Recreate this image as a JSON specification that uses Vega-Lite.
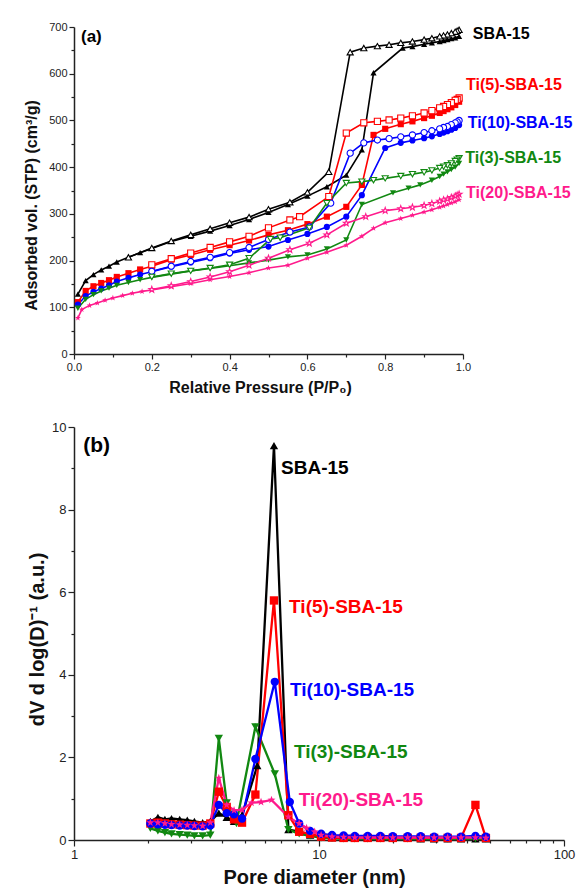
{
  "$schema": "https://vega.github.io/schema/vega-lite/v6.json",
  "padding": {"left": 23, "top": 21, "right": 5, "bottom": 2},
  "bounds": "flush",
  "spacing": 73,
  "config": {
    "view": {"stroke": null},
    "font": "Liberation Sans",
    "axis": {"grid": false, "domainColor": "#222", "tickColor": "#222", "labelColor": "#222", "titleColor": "#111", "labelFont": "Liberation Sans", "titleFont": "Liberation Sans", "titleFontWeight": "bold", "domainWidth": 1.5, "tickWidth": 1.2, "labelFlush": false}
  },
  "datasets": {
    "iso": [
      {"s":"SBA-15","b":"ads","p":0.01,"v":128},{"s":"SBA-15","b":"ads","p":0.03,"v":157},{"s":"SBA-15","b":"ads","p":0.05,"v":170},{"s":"SBA-15","b":"ads","p":0.07,"v":180},{"s":"SBA-15","b":"ads","p":0.09,"v":188},{"s":"SBA-15","b":"ads","p":0.11,"v":197},{"s":"SBA-15","b":"ads","p":0.14,"v":207},{"s":"SBA-15","b":"ads","p":0.17,"v":217},{"s":"SBA-15","b":"ads","p":0.20,"v":226},{"s":"SBA-15","b":"ads","p":0.25,"v":241},{"s":"SBA-15","b":"ads","p":0.30,"v":252},{"s":"SBA-15","b":"ads","p":0.35,"v":263},{"s":"SBA-15","b":"ads","p":0.40,"v":275},{"s":"SBA-15","b":"ads","p":0.45,"v":288},{"s":"SBA-15","b":"ads","p":0.50,"v":303},{"s":"SBA-15","b":"ads","p":0.55,"v":320},{"s":"SBA-15","b":"ads","p":0.60,"v":338},{"s":"SBA-15","b":"ads","p":0.65,"v":358},{"s":"SBA-15","b":"ads","p":0.70,"v":383},{"s":"SBA-15","b":"ads","p":0.74,"v":437},{"s":"SBA-15","b":"ads","p":0.77,"v":602},{"s":"SBA-15","b":"ads","p":0.845,"v":655},{"s":"SBA-15","b":"ads","p":0.87,"v":658},{"s":"SBA-15","b":"ads","p":0.90,"v":663},{"s":"SBA-15","b":"ads","p":0.92,"v":666},{"s":"SBA-15","b":"ads","p":0.94,"v":669},{"s":"SBA-15","b":"ads","p":0.95,"v":671},{"s":"SBA-15","b":"ads","p":0.96,"v":673},{"s":"SBA-15","b":"ads","p":0.97,"v":675},{"s":"SBA-15","b":"ads","p":0.98,"v":677},{"s":"SBA-15","b":"ads","p":0.99,"v":680},
      {"s":"SBA-15","b":"des","p":0.99,"v":694},{"s":"SBA-15","b":"des","p":0.985,"v":692},{"s":"SBA-15","b":"des","p":0.98,"v":690},{"s":"SBA-15","b":"des","p":0.97,"v":687},{"s":"SBA-15","b":"des","p":0.96,"v":684},{"s":"SBA-15","b":"des","p":0.95,"v":682},{"s":"SBA-15","b":"des","p":0.94,"v":680},{"s":"SBA-15","b":"des","p":0.92,"v":676},{"s":"SBA-15","b":"des","p":0.90,"v":673},{"s":"SBA-15","b":"des","p":0.87,"v":669},{"s":"SBA-15","b":"des","p":0.84,"v":666},{"s":"SBA-15","b":"des","p":0.81,"v":662},{"s":"SBA-15","b":"des","p":0.78,"v":659},{"s":"SBA-15","b":"des","p":0.745,"v":655},{"s":"SBA-15","b":"des","p":0.71,"v":646},{"s":"SBA-15","b":"des","p":0.655,"v":390},{"s":"SBA-15","b":"des","p":0.60,"v":346},{"s":"SBA-15","b":"des","p":0.555,"v":325},{"s":"SBA-15","b":"des","p":0.50,"v":310},{"s":"SBA-15","b":"des","p":0.45,"v":293},{"s":"SBA-15","b":"des","p":0.40,"v":281},{"s":"SBA-15","b":"des","p":0.35,"v":268},{"s":"SBA-15","b":"des","p":0.30,"v":255},{"s":"SBA-15","b":"des","p":0.25,"v":242},{"s":"SBA-15","b":"des","p":0.20,"v":227},{"s":"SBA-15","b":"des","p":0.14,"v":207},
      {"s":"Ti(5)-SBA-15","b":"ads","p":0.01,"v":111},{"s":"Ti(5)-SBA-15","b":"ads","p":0.03,"v":135},{"s":"Ti(5)-SBA-15","b":"ads","p":0.05,"v":145},{"s":"Ti(5)-SBA-15","b":"ads","p":0.07,"v":152},{"s":"Ti(5)-SBA-15","b":"ads","p":0.09,"v":158},{"s":"Ti(5)-SBA-15","b":"ads","p":0.11,"v":165},{"s":"Ti(5)-SBA-15","b":"ads","p":0.14,"v":173},{"s":"Ti(5)-SBA-15","b":"ads","p":0.17,"v":181},{"s":"Ti(5)-SBA-15","b":"ads","p":0.20,"v":188},{"s":"Ti(5)-SBA-15","b":"ads","p":0.25,"v":202},{"s":"Ti(5)-SBA-15","b":"ads","p":0.30,"v":212},{"s":"Ti(5)-SBA-15","b":"ads","p":0.35,"v":223},{"s":"Ti(5)-SBA-15","b":"ads","p":0.40,"v":233},{"s":"Ti(5)-SBA-15","b":"ads","p":0.45,"v":243},{"s":"Ti(5)-SBA-15","b":"ads","p":0.50,"v":255},{"s":"Ti(5)-SBA-15","b":"ads","p":0.55,"v":265},{"s":"Ti(5)-SBA-15","b":"ads","p":0.60,"v":278},{"s":"Ti(5)-SBA-15","b":"ads","p":0.65,"v":294},{"s":"Ti(5)-SBA-15","b":"ads","p":0.70,"v":315},{"s":"Ti(5)-SBA-15","b":"ads","p":0.74,"v":362},{"s":"Ti(5)-SBA-15","b":"ads","p":0.77,"v":469},{"s":"Ti(5)-SBA-15","b":"ads","p":0.80,"v":482},{"s":"Ti(5)-SBA-15","b":"ads","p":0.84,"v":492},{"s":"Ti(5)-SBA-15","b":"ads","p":0.87,"v":498},{"s":"Ti(5)-SBA-15","b":"ads","p":0.90,"v":505},{"s":"Ti(5)-SBA-15","b":"ads","p":0.92,"v":510},{"s":"Ti(5)-SBA-15","b":"ads","p":0.94,"v":516},{"s":"Ti(5)-SBA-15","b":"ads","p":0.95,"v":520},{"s":"Ti(5)-SBA-15","b":"ads","p":0.96,"v":524},{"s":"Ti(5)-SBA-15","b":"ads","p":0.97,"v":528},{"s":"Ti(5)-SBA-15","b":"ads","p":0.98,"v":533},{"s":"Ti(5)-SBA-15","b":"ads","p":0.99,"v":540},
      {"s":"Ti(5)-SBA-15","b":"des","p":0.99,"v":548},{"s":"Ti(5)-SBA-15","b":"des","p":0.985,"v":545},{"s":"Ti(5)-SBA-15","b":"des","p":0.98,"v":543},{"s":"Ti(5)-SBA-15","b":"des","p":0.97,"v":538},{"s":"Ti(5)-SBA-15","b":"des","p":0.96,"v":534},{"s":"Ti(5)-SBA-15","b":"des","p":0.95,"v":530},{"s":"Ti(5)-SBA-15","b":"des","p":0.94,"v":527},{"s":"Ti(5)-SBA-15","b":"des","p":0.92,"v":521},{"s":"Ti(5)-SBA-15","b":"des","p":0.90,"v":516},{"s":"Ti(5)-SBA-15","b":"des","p":0.87,"v":510},{"s":"Ti(5)-SBA-15","b":"des","p":0.84,"v":505},{"s":"Ti(5)-SBA-15","b":"des","p":0.81,"v":501},{"s":"Ti(5)-SBA-15","b":"des","p":0.78,"v":498},{"s":"Ti(5)-SBA-15","b":"des","p":0.745,"v":495},{"s":"Ti(5)-SBA-15","b":"des","p":0.70,"v":473},{"s":"Ti(5)-SBA-15","b":"des","p":0.655,"v":337},{"s":"Ti(5)-SBA-15","b":"des","p":0.58,"v":294},{"s":"Ti(5)-SBA-15","b":"des","p":0.555,"v":287},{"s":"Ti(5)-SBA-15","b":"des","p":0.50,"v":270},{"s":"Ti(5)-SBA-15","b":"des","p":0.45,"v":252},{"s":"Ti(5)-SBA-15","b":"des","p":0.40,"v":240},{"s":"Ti(5)-SBA-15","b":"des","p":0.35,"v":228},{"s":"Ti(5)-SBA-15","b":"des","p":0.30,"v":216},{"s":"Ti(5)-SBA-15","b":"des","p":0.25,"v":204},{"s":"Ti(5)-SBA-15","b":"des","p":0.20,"v":191},
      {"s":"Ti(10)-SBA-15","b":"ads","p":0.01,"v":106},{"s":"Ti(10)-SBA-15","b":"ads","p":0.03,"v":124},{"s":"Ti(10)-SBA-15","b":"ads","p":0.05,"v":133},{"s":"Ti(10)-SBA-15","b":"ads","p":0.07,"v":140},{"s":"Ti(10)-SBA-15","b":"ads","p":0.09,"v":147},{"s":"Ti(10)-SBA-15","b":"ads","p":0.11,"v":155},{"s":"Ti(10)-SBA-15","b":"ads","p":0.14,"v":163},{"s":"Ti(10)-SBA-15","b":"ads","p":0.17,"v":170},{"s":"Ti(10)-SBA-15","b":"ads","p":0.20,"v":176},{"s":"Ti(10)-SBA-15","b":"ads","p":0.25,"v":187},{"s":"Ti(10)-SBA-15","b":"ads","p":0.30,"v":196},{"s":"Ti(10)-SBA-15","b":"ads","p":0.35,"v":205},{"s":"Ti(10)-SBA-15","b":"ads","p":0.40,"v":215},{"s":"Ti(10)-SBA-15","b":"ads","p":0.45,"v":223},{"s":"Ti(10)-SBA-15","b":"ads","p":0.50,"v":230},{"s":"Ti(10)-SBA-15","b":"ads","p":0.55,"v":244},{"s":"Ti(10)-SBA-15","b":"ads","p":0.60,"v":257},{"s":"Ti(10)-SBA-15","b":"ads","p":0.65,"v":272},{"s":"Ti(10)-SBA-15","b":"ads","p":0.70,"v":294},{"s":"Ti(10)-SBA-15","b":"ads","p":0.74,"v":340},{"s":"Ti(10)-SBA-15","b":"ads","p":0.80,"v":441},{"s":"Ti(10)-SBA-15","b":"ads","p":0.84,"v":452},{"s":"Ti(10)-SBA-15","b":"ads","p":0.87,"v":457},{"s":"Ti(10)-SBA-15","b":"ads","p":0.90,"v":462},{"s":"Ti(10)-SBA-15","b":"ads","p":0.92,"v":466},{"s":"Ti(10)-SBA-15","b":"ads","p":0.94,"v":471},{"s":"Ti(10)-SBA-15","b":"ads","p":0.95,"v":474},{"s":"Ti(10)-SBA-15","b":"ads","p":0.96,"v":477},{"s":"Ti(10)-SBA-15","b":"ads","p":0.97,"v":480},{"s":"Ti(10)-SBA-15","b":"ads","p":0.98,"v":484},{"s":"Ti(10)-SBA-15","b":"ads","p":0.99,"v":490},
      {"s":"Ti(10)-SBA-15","b":"des","p":0.99,"v":500},{"s":"Ti(10)-SBA-15","b":"des","p":0.985,"v":497},{"s":"Ti(10)-SBA-15","b":"des","p":0.98,"v":495},{"s":"Ti(10)-SBA-15","b":"des","p":0.97,"v":491},{"s":"Ti(10)-SBA-15","b":"des","p":0.96,"v":487},{"s":"Ti(10)-SBA-15","b":"des","p":0.95,"v":485},{"s":"Ti(10)-SBA-15","b":"des","p":0.94,"v":482},{"s":"Ti(10)-SBA-15","b":"des","p":0.92,"v":478},{"s":"Ti(10)-SBA-15","b":"des","p":0.90,"v":474},{"s":"Ti(10)-SBA-15","b":"des","p":0.87,"v":469},{"s":"Ti(10)-SBA-15","b":"des","p":0.84,"v":465},{"s":"Ti(10)-SBA-15","b":"des","p":0.81,"v":461},{"s":"Ti(10)-SBA-15","b":"des","p":0.78,"v":458},{"s":"Ti(10)-SBA-15","b":"des","p":0.745,"v":452},{"s":"Ti(10)-SBA-15","b":"des","p":0.71,"v":430},{"s":"Ti(10)-SBA-15","b":"des","p":0.66,"v":323},{"s":"Ti(10)-SBA-15","b":"des","p":0.605,"v":272},{"s":"Ti(10)-SBA-15","b":"des","p":0.555,"v":261},{"s":"Ti(10)-SBA-15","b":"des","p":0.50,"v":245},{"s":"Ti(10)-SBA-15","b":"des","p":0.45,"v":228},{"s":"Ti(10)-SBA-15","b":"des","p":0.40,"v":217},{"s":"Ti(10)-SBA-15","b":"des","p":0.35,"v":207},{"s":"Ti(10)-SBA-15","b":"des","p":0.30,"v":198},{"s":"Ti(10)-SBA-15","b":"des","p":0.25,"v":188},{"s":"Ti(10)-SBA-15","b":"des","p":0.20,"v":177},
      {"s":"Ti(3)-SBA-15","b":"ads","p":0.01,"v":98},{"s":"Ti(3)-SBA-15","b":"ads","p":0.03,"v":117},{"s":"Ti(3)-SBA-15","b":"ads","p":0.05,"v":127},{"s":"Ti(3)-SBA-15","b":"ads","p":0.07,"v":135},{"s":"Ti(3)-SBA-15","b":"ads","p":0.09,"v":141},{"s":"Ti(3)-SBA-15","b":"ads","p":0.11,"v":147},{"s":"Ti(3)-SBA-15","b":"ads","p":0.14,"v":153},{"s":"Ti(3)-SBA-15","b":"ads","p":0.17,"v":159},{"s":"Ti(3)-SBA-15","b":"ads","p":0.20,"v":164},{"s":"Ti(3)-SBA-15","b":"ads","p":0.25,"v":171},{"s":"Ti(3)-SBA-15","b":"ads","p":0.30,"v":178},{"s":"Ti(3)-SBA-15","b":"ads","p":0.35,"v":183},{"s":"Ti(3)-SBA-15","b":"ads","p":0.40,"v":189},{"s":"Ti(3)-SBA-15","b":"ads","p":0.45,"v":195},{"s":"Ti(3)-SBA-15","b":"ads","p":0.50,"v":201},{"s":"Ti(3)-SBA-15","b":"ads","p":0.55,"v":208},{"s":"Ti(3)-SBA-15","b":"ads","p":0.60,"v":212},{"s":"Ti(3)-SBA-15","b":"ads","p":0.65,"v":225},{"s":"Ti(3)-SBA-15","b":"ads","p":0.70,"v":244},{"s":"Ti(3)-SBA-15","b":"ads","p":0.74,"v":320},{"s":"Ti(3)-SBA-15","b":"ads","p":0.82,"v":345},{"s":"Ti(3)-SBA-15","b":"ads","p":0.86,"v":355},{"s":"Ti(3)-SBA-15","b":"ads","p":0.89,"v":362},{"s":"Ti(3)-SBA-15","b":"ads","p":0.92,"v":372},{"s":"Ti(3)-SBA-15","b":"ads","p":0.94,"v":380},{"s":"Ti(3)-SBA-15","b":"ads","p":0.95,"v":385},{"s":"Ti(3)-SBA-15","b":"ads","p":0.96,"v":390},{"s":"Ti(3)-SBA-15","b":"ads","p":0.97,"v":395},{"s":"Ti(3)-SBA-15","b":"ads","p":0.98,"v":400},{"s":"Ti(3)-SBA-15","b":"ads","p":0.99,"v":408},
      {"s":"Ti(3)-SBA-15","b":"des","p":0.99,"v":419},{"s":"Ti(3)-SBA-15","b":"des","p":0.985,"v":416},{"s":"Ti(3)-SBA-15","b":"des","p":0.98,"v":413},{"s":"Ti(3)-SBA-15","b":"des","p":0.97,"v":408},{"s":"Ti(3)-SBA-15","b":"des","p":0.96,"v":404},{"s":"Ti(3)-SBA-15","b":"des","p":0.95,"v":401},{"s":"Ti(3)-SBA-15","b":"des","p":0.94,"v":398},{"s":"Ti(3)-SBA-15","b":"des","p":0.92,"v":393},{"s":"Ti(3)-SBA-15","b":"des","p":0.90,"v":389},{"s":"Ti(3)-SBA-15","b":"des","p":0.87,"v":385},{"s":"Ti(3)-SBA-15","b":"des","p":0.84,"v":381},{"s":"Ti(3)-SBA-15","b":"des","p":0.80,"v":376},{"s":"Ti(3)-SBA-15","b":"des","p":0.77,"v":372},{"s":"Ti(3)-SBA-15","b":"des","p":0.74,"v":369},{"s":"Ti(3)-SBA-15","b":"des","p":0.70,"v":366},{"s":"Ti(3)-SBA-15","b":"des","p":0.65,"v":323},{"s":"Ti(3)-SBA-15","b":"des","p":0.605,"v":270},{"s":"Ti(3)-SBA-15","b":"des","p":0.53,"v":249},{"s":"Ti(3)-SBA-15","b":"des","p":0.505,"v":246},{"s":"Ti(3)-SBA-15","b":"des","p":0.45,"v":205},{"s":"Ti(3)-SBA-15","b":"des","p":0.40,"v":191},{"s":"Ti(3)-SBA-15","b":"des","p":0.35,"v":184},{"s":"Ti(3)-SBA-15","b":"des","p":0.30,"v":178},{"s":"Ti(3)-SBA-15","b":"des","p":0.25,"v":172},{"s":"Ti(3)-SBA-15","b":"des","p":0.20,"v":165},
      {"s":"Ti(20)-SBA-15","b":"ads","p":0.01,"v":77},{"s":"Ti(20)-SBA-15","b":"ads","p":0.02,"v":95},{"s":"Ti(20)-SBA-15","b":"ads","p":0.04,"v":104},{"s":"Ti(20)-SBA-15","b":"ads","p":0.06,"v":109},{"s":"Ti(20)-SBA-15","b":"ads","p":0.08,"v":115},{"s":"Ti(20)-SBA-15","b":"ads","p":0.10,"v":120},{"s":"Ti(20)-SBA-15","b":"ads","p":0.125,"v":125},{"s":"Ti(20)-SBA-15","b":"ads","p":0.15,"v":130},{"s":"Ti(20)-SBA-15","b":"ads","p":0.175,"v":134},{"s":"Ti(20)-SBA-15","b":"ads","p":0.20,"v":137},{"s":"Ti(20)-SBA-15","b":"ads","p":0.25,"v":144},{"s":"Ti(20)-SBA-15","b":"ads","p":0.30,"v":151},{"s":"Ti(20)-SBA-15","b":"ads","p":0.35,"v":159},{"s":"Ti(20)-SBA-15","b":"ads","p":0.40,"v":166},{"s":"Ti(20)-SBA-15","b":"ads","p":0.45,"v":174},{"s":"Ti(20)-SBA-15","b":"ads","p":0.50,"v":184},{"s":"Ti(20)-SBA-15","b":"ads","p":0.55,"v":190},{"s":"Ti(20)-SBA-15","b":"ads","p":0.60,"v":205},{"s":"Ti(20)-SBA-15","b":"ads","p":0.65,"v":218},{"s":"Ti(20)-SBA-15","b":"ads","p":0.70,"v":233},{"s":"Ti(20)-SBA-15","b":"ads","p":0.74,"v":252},{"s":"Ti(20)-SBA-15","b":"ads","p":0.77,"v":269},{"s":"Ti(20)-SBA-15","b":"ads","p":0.80,"v":281},{"s":"Ti(20)-SBA-15","b":"ads","p":0.84,"v":290},{"s":"Ti(20)-SBA-15","b":"ads","p":0.87,"v":297},{"s":"Ti(20)-SBA-15","b":"ads","p":0.90,"v":304},{"s":"Ti(20)-SBA-15","b":"ads","p":0.92,"v":309},{"s":"Ti(20)-SBA-15","b":"ads","p":0.94,"v":314},{"s":"Ti(20)-SBA-15","b":"ads","p":0.95,"v":317},{"s":"Ti(20)-SBA-15","b":"ads","p":0.96,"v":320},{"s":"Ti(20)-SBA-15","b":"ads","p":0.97,"v":323},{"s":"Ti(20)-SBA-15","b":"ads","p":0.98,"v":326},{"s":"Ti(20)-SBA-15","b":"ads","p":0.99,"v":330},
      {"s":"Ti(20)-SBA-15","b":"des","p":0.99,"v":342},{"s":"Ti(20)-SBA-15","b":"des","p":0.985,"v":340},{"s":"Ti(20)-SBA-15","b":"des","p":0.98,"v":338},{"s":"Ti(20)-SBA-15","b":"des","p":0.97,"v":335},{"s":"Ti(20)-SBA-15","b":"des","p":0.96,"v":332},{"s":"Ti(20)-SBA-15","b":"des","p":0.95,"v":330},{"s":"Ti(20)-SBA-15","b":"des","p":0.94,"v":327},{"s":"Ti(20)-SBA-15","b":"des","p":0.92,"v":322},{"s":"Ti(20)-SBA-15","b":"des","p":0.90,"v":318},{"s":"Ti(20)-SBA-15","b":"des","p":0.87,"v":314},{"s":"Ti(20)-SBA-15","b":"des","p":0.84,"v":311},{"s":"Ti(20)-SBA-15","b":"des","p":0.80,"v":307},{"s":"Ti(20)-SBA-15","b":"des","p":0.75,"v":294},{"s":"Ti(20)-SBA-15","b":"des","p":0.70,"v":280},{"s":"Ti(20)-SBA-15","b":"des","p":0.65,"v":255},{"s":"Ti(20)-SBA-15","b":"des","p":0.605,"v":237},{"s":"Ti(20)-SBA-15","b":"des","p":0.555,"v":223},{"s":"Ti(20)-SBA-15","b":"des","p":0.50,"v":205},{"s":"Ti(20)-SBA-15","b":"des","p":0.45,"v":190},{"s":"Ti(20)-SBA-15","b":"des","p":0.40,"v":176},{"s":"Ti(20)-SBA-15","b":"des","p":0.35,"v":165},{"s":"Ti(20)-SBA-15","b":"des","p":0.30,"v":155},{"s":"Ti(20)-SBA-15","b":"des","p":0.25,"v":146},{"s":"Ti(20)-SBA-15","b":"des","p":0.20,"v":138}
    ],
    "psd": [
      {"s":"SBA-15","d":2.05,"v":0.45},{"s":"SBA-15","d":2.2,"v":0.55},{"s":"SBA-15","d":2.35,"v":0.5},{"s":"SBA-15","d":2.5,"v":0.52},{"s":"SBA-15","d":2.7,"v":0.5},{"s":"SBA-15","d":2.9,"v":0.48},{"s":"SBA-15","d":3.1,"v":0.45},{"s":"SBA-15","d":3.35,"v":0.42},{"s":"SBA-15","d":3.6,"v":0.45},{"s":"SBA-15","d":3.9,"v":0.65},{"s":"SBA-15","d":4.2,"v":0.55},{"s":"SBA-15","d":4.5,"v":0.45},{"s":"SBA-15","d":4.85,"v":0.6},{"s":"SBA-15","d":5.6,"v":1.8},{"s":"SBA-15","d":6.55,"v":9.55},{"s":"SBA-15","d":7.5,"v":0.25},{"s":"SBA-15","d":8.3,"v":0.2},{"s":"SBA-15","d":9.2,"v":0.12},{"s":"SBA-15","d":10.2,"v":0.08},{"s":"SBA-15","d":11.3,"v":0.06},{"s":"SBA-15","d":12.6,"v":0.05},{"s":"SBA-15","d":14,"v":0.05},{"s":"SBA-15","d":15.8,"v":0.04},{"s":"SBA-15","d":17.8,"v":0.04},{"s":"SBA-15","d":20,"v":0.04},{"s":"SBA-15","d":23,"v":0.04},{"s":"SBA-15","d":26,"v":0.03},{"s":"SBA-15","d":29.5,"v":0.03},{"s":"SBA-15","d":33.5,"v":0.03},{"s":"SBA-15","d":38,"v":0.03},{"s":"SBA-15","d":43.5,"v":0.03},{"s":"SBA-15","d":48,"v":0.03},
      {"s":"Ti(3)-SBA-15","d":2.05,"v":0.28},{"s":"Ti(3)-SBA-15","d":2.2,"v":0.22},{"s":"Ti(3)-SBA-15","d":2.35,"v":0.18},{"s":"Ti(3)-SBA-15","d":2.5,"v":0.15},{"s":"Ti(3)-SBA-15","d":2.7,"v":0.13},{"s":"Ti(3)-SBA-15","d":2.9,"v":0.12},{"s":"Ti(3)-SBA-15","d":3.1,"v":0.1},{"s":"Ti(3)-SBA-15","d":3.35,"v":0.1},{"s":"Ti(3)-SBA-15","d":3.6,"v":0.12},{"s":"Ti(3)-SBA-15","d":3.9,"v":2.46},{"s":"Ti(3)-SBA-15","d":4.2,"v":0.9},{"s":"Ti(3)-SBA-15","d":4.6,"v":0.4},{"s":"Ti(3)-SBA-15","d":5.5,"v":2.74},{"s":"Ti(3)-SBA-15","d":6.6,"v":1.6},{"s":"Ti(3)-SBA-15","d":7.5,"v":0.25},{"s":"Ti(3)-SBA-15","d":8.3,"v":0.15},{"s":"Ti(3)-SBA-15","d":9.2,"v":0.1},{"s":"Ti(3)-SBA-15","d":10.2,"v":0.05},{"s":"Ti(3)-SBA-15","d":11.3,"v":0.04},{"s":"Ti(3)-SBA-15","d":12.6,"v":0.03},{"s":"Ti(3)-SBA-15","d":14,"v":0.03},{"s":"Ti(3)-SBA-15","d":15.8,"v":0.03},{"s":"Ti(3)-SBA-15","d":17.8,"v":0.03},{"s":"Ti(3)-SBA-15","d":20,"v":0.03},{"s":"Ti(3)-SBA-15","d":23,"v":0.03},{"s":"Ti(3)-SBA-15","d":26,"v":0.03},{"s":"Ti(3)-SBA-15","d":29.5,"v":0.03},{"s":"Ti(3)-SBA-15","d":33.5,"v":0.03},{"s":"Ti(3)-SBA-15","d":38,"v":0.03},{"s":"Ti(3)-SBA-15","d":43.5,"v":0.03},{"s":"Ti(3)-SBA-15","d":48,"v":0.03},
      {"s":"Ti(5)-SBA-15","d":2.05,"v":0.4},{"s":"Ti(5)-SBA-15","d":2.2,"v":0.42},{"s":"Ti(5)-SBA-15","d":2.35,"v":0.4},{"s":"Ti(5)-SBA-15","d":2.5,"v":0.38},{"s":"Ti(5)-SBA-15","d":2.7,"v":0.37},{"s":"Ti(5)-SBA-15","d":2.9,"v":0.36},{"s":"Ti(5)-SBA-15","d":3.1,"v":0.35},{"s":"Ti(5)-SBA-15","d":3.35,"v":0.35},{"s":"Ti(5)-SBA-15","d":3.6,"v":0.4},{"s":"Ti(5)-SBA-15","d":3.9,"v":1.17},{"s":"Ti(5)-SBA-15","d":4.2,"v":0.8},{"s":"Ti(5)-SBA-15","d":4.5,"v":0.5},{"s":"Ti(5)-SBA-15","d":4.85,"v":0.42},{"s":"Ti(5)-SBA-15","d":5.5,"v":1.1},{"s":"Ti(5)-SBA-15","d":6.55,"v":5.8},{"s":"Ti(5)-SBA-15","d":7.5,"v":0.6},{"s":"Ti(5)-SBA-15","d":8.3,"v":0.2},{"s":"Ti(5)-SBA-15","d":9.2,"v":0.15},{"s":"Ti(5)-SBA-15","d":10.2,"v":0.08},{"s":"Ti(5)-SBA-15","d":11.3,"v":0.06},{"s":"Ti(5)-SBA-15","d":12.6,"v":0.05},{"s":"Ti(5)-SBA-15","d":14,"v":0.05},{"s":"Ti(5)-SBA-15","d":15.8,"v":0.05},{"s":"Ti(5)-SBA-15","d":17.8,"v":0.05},{"s":"Ti(5)-SBA-15","d":20,"v":0.05},{"s":"Ti(5)-SBA-15","d":23,"v":0.05},{"s":"Ti(5)-SBA-15","d":26,"v":0.05},{"s":"Ti(5)-SBA-15","d":29.5,"v":0.05},{"s":"Ti(5)-SBA-15","d":33.5,"v":0.05},{"s":"Ti(5)-SBA-15","d":38,"v":0.05},{"s":"Ti(5)-SBA-15","d":43.5,"v":0.85},{"s":"Ti(5)-SBA-15","d":48,"v":0.05},
      {"s":"Ti(10)-SBA-15","d":2.05,"v":0.4},{"s":"Ti(10)-SBA-15","d":2.2,"v":0.38},{"s":"Ti(10)-SBA-15","d":2.35,"v":0.37},{"s":"Ti(10)-SBA-15","d":2.5,"v":0.36},{"s":"Ti(10)-SBA-15","d":2.7,"v":0.35},{"s":"Ti(10)-SBA-15","d":2.9,"v":0.35},{"s":"Ti(10)-SBA-15","d":3.1,"v":0.34},{"s":"Ti(10)-SBA-15","d":3.35,"v":0.33},{"s":"Ti(10)-SBA-15","d":3.6,"v":0.35},{"s":"Ti(10)-SBA-15","d":3.9,"v":0.85},{"s":"Ti(10)-SBA-15","d":4.2,"v":0.65},{"s":"Ti(10)-SBA-15","d":4.5,"v":0.62},{"s":"Ti(10)-SBA-15","d":4.85,"v":0.52},{"s":"Ti(10)-SBA-15","d":5.5,"v":1.96},{"s":"Ti(10)-SBA-15","d":6.6,"v":3.83},{"s":"Ti(10)-SBA-15","d":7.6,"v":0.92},{"s":"Ti(10)-SBA-15","d":8.3,"v":0.4},{"s":"Ti(10)-SBA-15","d":9.2,"v":0.22},{"s":"Ti(10)-SBA-15","d":10.2,"v":0.15},{"s":"Ti(10)-SBA-15","d":11.3,"v":0.12},{"s":"Ti(10)-SBA-15","d":12.6,"v":0.11},{"s":"Ti(10)-SBA-15","d":14,"v":0.1},{"s":"Ti(10)-SBA-15","d":15.8,"v":0.1},{"s":"Ti(10)-SBA-15","d":17.8,"v":0.1},{"s":"Ti(10)-SBA-15","d":20,"v":0.09},{"s":"Ti(10)-SBA-15","d":23,"v":0.09},{"s":"Ti(10)-SBA-15","d":26,"v":0.09},{"s":"Ti(10)-SBA-15","d":29.5,"v":0.08},{"s":"Ti(10)-SBA-15","d":33.5,"v":0.08},{"s":"Ti(10)-SBA-15","d":38,"v":0.08},{"s":"Ti(10)-SBA-15","d":43.5,"v":0.1},{"s":"Ti(10)-SBA-15","d":48,"v":0.08},
      {"s":"Ti(20)-SBA-15","d":2.05,"v":0.42},{"s":"Ti(20)-SBA-15","d":2.2,"v":0.42},{"s":"Ti(20)-SBA-15","d":2.35,"v":0.4},{"s":"Ti(20)-SBA-15","d":2.5,"v":0.38},{"s":"Ti(20)-SBA-15","d":2.7,"v":0.37},{"s":"Ti(20)-SBA-15","d":2.9,"v":0.36},{"s":"Ti(20)-SBA-15","d":3.1,"v":0.35},{"s":"Ti(20)-SBA-15","d":3.35,"v":0.34},{"s":"Ti(20)-SBA-15","d":3.6,"v":0.42},{"s":"Ti(20)-SBA-15","d":3.9,"v":1.5},{"s":"Ti(20)-SBA-15","d":4.2,"v":0.85},{"s":"Ti(20)-SBA-15","d":4.5,"v":0.72},{"s":"Ti(20)-SBA-15","d":4.85,"v":0.73},{"s":"Ti(20)-SBA-15","d":5.3,"v":0.9},{"s":"Ti(20)-SBA-15","d":5.8,"v":0.92},{"s":"Ti(20)-SBA-15","d":6.4,"v":0.97},{"s":"Ti(20)-SBA-15","d":7.5,"v":0.56},{"s":"Ti(20)-SBA-15","d":8.3,"v":0.4},{"s":"Ti(20)-SBA-15","d":8.9,"v":0.29},{"s":"Ti(20)-SBA-15","d":9.6,"v":0.2},{"s":"Ti(20)-SBA-15","d":10.2,"v":0.12},{"s":"Ti(20)-SBA-15","d":11.3,"v":0.08},{"s":"Ti(20)-SBA-15","d":12.6,"v":0.07},{"s":"Ti(20)-SBA-15","d":14,"v":0.06},{"s":"Ti(20)-SBA-15","d":15.8,"v":0.06},{"s":"Ti(20)-SBA-15","d":17.8,"v":0.06},{"s":"Ti(20)-SBA-15","d":20,"v":0.06},{"s":"Ti(20)-SBA-15","d":23,"v":0.06},{"s":"Ti(20)-SBA-15","d":26,"v":0.06},{"s":"Ti(20)-SBA-15","d":29.5,"v":0.06},{"s":"Ti(20)-SBA-15","d":33.5,"v":0.06},{"s":"Ti(20)-SBA-15","d":38,"v":0.06},{"s":"Ti(20)-SBA-15","d":43.5,"v":0.06},{"s":"Ti(20)-SBA-15","d":48,"v":0.05}
    ],
    "labA": [
      {"s":"SBA-15","p":1.025,"v":685},{"s":"Ti(5)-SBA-15","p":1.008,"v":576},{"s":"Ti(10)-SBA-15","p":1.012,"v":495},{"s":"Ti(3)-SBA-15","p":1.006,"v":420},{"s":"Ti(20)-SBA-15","p":1.008,"v":345}
    ],
    "labB": [
      {"s":"SBA-15","d":7.0,"v":9.0},{"s":"Ti(5)-SBA-15","d":7.55,"v":5.64},{"s":"Ti(10)-SBA-15","d":7.61,"v":3.63},{"s":"Ti(3)-SBA-15","d":7.9,"v":2.13},{"s":"Ti(20)-SBA-15","d":8.27,"v":0.97}
    ],
    "panA": [{"t":"(a)","p":0.018,"v":679}],
    "panB": [{"t":"(b)","d":1.09,"v":9.54}]
  },
  "vconcat": [
    {
      "width": 389,
      "height": 327,
      "layer": [
        {
          "data": {"name": "iso"},
          "mark": {"type": "line", "strokeWidth": 1.6},
          "encoding": {
            "x": {"field": "p", "type": "quantitative", "scale": {"domain": [0, 1]}, "axis": {"orient": "bottom", "values": [0, 0.2, 0.4, 0.6, 0.8, 1.0], "format": ".1f", "title": "Relative Pressure (P/P₀)", "labelFontSize": 11, "titleFontSize": 16, "titlePadding": 7, "titleX": 186, "tickSize": 5}},
            "y": {"field": "v", "type": "quantitative", "scale": {"domain": [0, 700]}, "axis": {"orient": "left", "values": [0, 100, 200, 300, 400, 500, 600, 700], "title": "Adsorbed vol. (STP) (cm³/g)", "labelFontSize": 11, "titleFontSize": 16, "titlePadding": 9, "titleY": 178, "tickSize": 5}},
            "color": {"field": "s", "type": "nominal", "scale": {"domain": ["SBA-15", "Ti(5)-SBA-15", "Ti(10)-SBA-15", "Ti(3)-SBA-15", "Ti(20)-SBA-15"], "range": ["#000000", "#ff0000", "#0000ff", "#118811", "#ff1a8c"]}, "legend": null},
            "detail": {"field": "b"},
            "order": {"field": "p", "type": "quantitative"}
          }
        },
        {
          "data": {"name": "iso"},
          "transform": [{"filter": {"field": "b", "equal": "ads"}}],
          "mark": {"type": "point", "filled": true, "size": 38, "opacity": 1},
          "encoding": {
            "x": {"field": "p", "type": "quantitative", "axis": {"orient": "bottom", "values": [0.1, 0.3, 0.5, 0.7, 0.9], "labels": false, "domain": false, "tickSize": 3, "title": null}},
            "y": {"field": "v", "type": "quantitative", "axis": {"orient": "left", "values": [50, 150, 250, 350, 450, 550, 650], "labels": false, "domain": false, "tickSize": 3, "title": null}},
            "color": {"field": "s", "type": "nominal", "legend": null},
            "shape": {"field": "s", "type": "nominal", "scale": {"domain": ["SBA-15", "Ti(5)-SBA-15", "Ti(10)-SBA-15", "Ti(3)-SBA-15", "Ti(20)-SBA-15"], "range": ["triangle-up", "square", "circle", "triangle-down", "M0,-1L0.24,-0.33L0.95,-0.31L0.38,0.12L0.59,0.81L0,0.4L-0.59,0.81L-0.38,0.12L-0.95,-0.31L-0.24,-0.33Z"]}, "legend": null}
          }
        },
        {
          "data": {"name": "iso"},
          "transform": [{"filter": {"field": "b", "equal": "des"}}],
          "mark": {"type": "point", "filled": false, "fill": "white", "fillOpacity": 1, "size": 38, "strokeWidth": 1.1, "opacity": 1},
          "encoding": {
            "x": {"field": "p", "type": "quantitative", "axis": null},
            "y": {"field": "v", "type": "quantitative", "axis": null},
            "color": {"field": "s", "type": "nominal", "legend": null},
            "shape": {"field": "s", "type": "nominal", "legend": null}
          }
        },
        {
          "data": {"name": "labA"},
          "mark": {"type": "text", "align": "left", "baseline": "middle", "fontSize": 16, "fontWeight": "bold"},
          "encoding": {
            "x": {"field": "p", "type": "quantitative", "axis": null},
            "y": {"field": "v", "type": "quantitative", "axis": null},
            "text": {"field": "s"},
            "color": {"field": "s", "type": "nominal", "legend": null}
          }
        },
        {
          "data": {"name": "panA"},
          "mark": {"type": "text", "align": "left", "baseline": "middle", "fontSize": 17, "fontWeight": "bold", "color": "#000"},
          "encoding": {
            "x": {"field": "p", "type": "quantitative", "axis": null},
            "y": {"field": "v", "type": "quantitative", "axis": null},
            "text": {"field": "t"}
          }
        }
      ],
      "resolve": {"axis": {"x": "independent", "y": "independent"}}
    },
    {
      "width": 490,
      "height": 413,
      "layer": [
        {
          "data": {"name": "psd"},
          "mark": {"type": "line", "strokeWidth": 2.3},
          "encoding": {
            "x": {"field": "d", "type": "quantitative", "scale": {"type": "log", "domain": [1, 100]}, "axis": {"orient": "bottom", "values": [1, 10, 100], "format": "d", "title": "Pore diameter (nm)", "labelFontSize": 13, "titleFontSize": 20, "titlePadding": 6, "titleX": 240, "tickSize": 6}},
            "y": {"field": "v", "type": "quantitative", "scale": {"domain": [0, 10]}, "axis": {"orient": "left", "values": [0, 2, 4, 6, 8, 10], "title": "dV d log(D)⁻¹ (a.u.)", "labelFontSize": 13, "titleFontSize": 20, "titlePadding": 4, "titleY": 212, "tickSize": 6}},
            "color": {"field": "s", "type": "nominal", "scale": {"domain": ["SBA-15", "Ti(5)-SBA-15", "Ti(10)-SBA-15", "Ti(3)-SBA-15", "Ti(20)-SBA-15"], "range": ["#000000", "#ff0000", "#0000ff", "#118811", "#ff1a8c"]}, "legend": null},
            "order": {"field": "d", "type": "quantitative"}
          }
        },
        {
          "data": {"name": "psd"},
          "mark": {"type": "point", "filled": true, "size": 70, "opacity": 1},
          "encoding": {
            "x": {"field": "d", "type": "quantitative", "axis": {"orient": "bottom", "values": [2, 3, 4, 5, 6, 7, 8, 9, 20, 30, 40, 50, 60, 70, 80, 90], "labels": false, "domain": false, "tickSize": 3, "title": null}},
            "y": {"field": "v", "type": "quantitative", "axis": {"orient": "left", "values": [1, 3, 5, 7, 9], "labels": false, "domain": false, "tickSize": 3, "title": null}},
            "color": {"field": "s", "type": "nominal", "legend": null},
            "shape": {"field": "s", "type": "nominal", "scale": {"domain": ["SBA-15", "Ti(5)-SBA-15", "Ti(10)-SBA-15", "Ti(3)-SBA-15", "Ti(20)-SBA-15"], "range": ["triangle-up", "square", "circle", "triangle-down", "M0,-1L0.24,-0.33L0.95,-0.31L0.38,0.12L0.59,0.81L0,0.4L-0.59,0.81L-0.38,0.12L-0.95,-0.31L-0.24,-0.33Z"]}, "legend": null}
          }
        },
        {
          "data": {"name": "labB"},
          "mark": {"type": "text", "align": "left", "baseline": "middle", "fontSize": 19, "fontWeight": "bold"},
          "encoding": {
            "x": {"field": "d", "type": "quantitative", "axis": null},
            "y": {"field": "v", "type": "quantitative", "axis": null},
            "text": {"field": "s"},
            "color": {"field": "s", "type": "nominal", "legend": null}
          }
        },
        {
          "data": {"name": "panB"},
          "mark": {"type": "text", "align": "left", "baseline": "middle", "fontSize": 21, "fontWeight": "bold", "color": "#000"},
          "encoding": {
            "x": {"field": "d", "type": "quantitative", "axis": null},
            "y": {"field": "v", "type": "quantitative", "axis": null},
            "text": {"field": "t"}
          }
        }
      ],
      "resolve": {"axis": {"x": "independent", "y": "independent"}}
    }
  ]
}
